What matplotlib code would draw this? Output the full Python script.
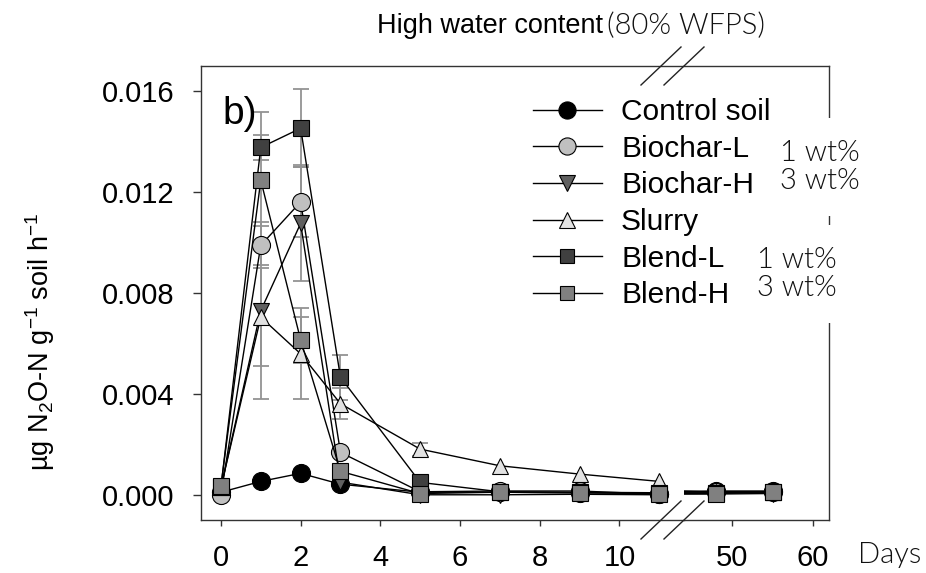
import numpy as np
import matplotlib
matplotlib.use("Agg")
import matplotlib.pyplot as plt
from matplotlib.lines import Line2D

plt.rcParams['font.family'] = ['Liberation Sans', 'DejaVu Sans']
plt.rcParams['mathtext.default'] = 'regular'

#### DATA #####
days = [0, 1, 2, 3, 5, 7, 9, 11, 48, 55]

series_names = ["Control soil", "Biochar-L", "Biochar-H", "Slurry", "Blend-L", "Blend-H"]

control    = [0.00010, 0.00053, 0.00085, 0.00042, 0.00010, 0.00010, 0.00008, 0.00005, 0.00015, 0.00015]
biochar_l  = [0.00000, 0.00989, 0.01161, 0.00168, 0.00012, 0.00015, 0.00015, 0.00002, 0.00012, 0.00012]
biochar_h  = [0.00030, 0.00730, 0.01076, 0.00050, 0.00000, 0.00000, 0.00002, 0.00000, 0.00003, 0.00005]
slurry     = [0.00030, 0.00704, 0.00559, 0.00361, 0.00181, 0.00115, 0.00082, 0.00053, 0.00010, 0.00012]
blend_l    = [0.00030, 0.01377, 0.01453, 0.00466, 0.00049, 0.00012, 0.00010, 0.00008, 0.00008, 0.00010]
blend_h    = [0.00035, 0.01247, 0.00614, 0.00093, 0.00005, 0.00010, 0.00008, 0.00005, 0.00005, 0.00010]

# standard deviations (only the visible ones)
control_err   = [0, 0, 0, 0, 0, 0, 0, 0, 0, 0]
biochar_l_err = [0, 0.00078, 0.00140, 0, 0, 0, 0, 0, 0, 0]
biochar_h_err = [0, 0.00350, 0.00230, 0, 0, 0, 0, 0, 0, 0]
slurry_err    = [0, 0.00195, 0.00180, 0.00062, 0.00026, 0, 0, 0, 0, 0]
blend_l_err   = [0.00005, 0.00050, 0.00155, 0.00090, 0, 0, 0, 0, 0, 0]
blend_h_err   = [0, 0.00270, 0.00090, 0, 0, 0, 0, 0, 0, 0]

values = [control, biochar_l, biochar_h, slurry, blend_l, blend_h]
errors = [control_err, biochar_l_err, biochar_h_err, slurry_err, blend_l_err, blend_h_err]
markers = ['o', 'o', 'v', '^', 's', 's']
colors = ['#000000', '#c0c0c0', '#606060', '#e2e2e2', '#404040', '#808080']
msizes = [13, 13, 12, 12, 11, 11]

W, H = 926, 573
def fx(px):
	return px / W
def fy(py):
	return 1 - py / H

fig = plt.figure(figsize=(W / 100, H / 100), dpi=100)

# broken x axis: early days on the left, late days on the right
left, right, brk, top, bottom = 201, 829, 684, 66, 520
ax1 = fig.add_axes([fx(left), fy(bottom), fx(brk - left), fy(top) - fy(bottom)])
ax2 = fig.add_axes([fx(brk), fy(bottom), fx(right - brk), fy(top) - fy(bottom)], sharey=ax1)

n_early = 8
for vals, errs, m, c, ms in zip(values, errors, markers, colors, msizes):
	d = np.array(days)
	v = np.array(vals)
	e = np.array(errs)
	mask = e > 0
	for ax in (ax1, ax2):
		ax.errorbar(d[mask], v[mask], yerr=e[mask], fmt='none', ecolor='#939393',
			elinewidth=1.3, capsize=6, capthick=1.3, zorder=1)
	ax1.plot(d[:n_early], v[:n_early], color='black', lw=1, marker=m, ms=ms,
		mfc=c, mec='black', mew=0.8, zorder=3)
	ax2.plot(d[n_early - 1:], v[n_early - 1:], color='black', lw=1, marker=m, ms=ms,
		mfc=c, mec='black', mew=0.8, zorder=3)

ax1.set_xlim(-0.5, 11.62)
ax2.set_xlim(44, 62)
ax1.set_ylim(-0.001, 0.017)

ax1.set_xticks([0, 2, 4, 6, 8, 10])
ax2.set_xticks([50, 60])
ax1.set_yticks([0.000, 0.004, 0.008, 0.012, 0.016])
ax1.set_yticklabels(['0.000', '0.004', '0.008', '0.012', '0.016'])

for ax in (ax1, ax2):
	for s in ax.spines.values():
		s.set_color('#333333')
		s.set_linewidth(1)
	ax.tick_params(axis='x', direction='out', length=4, width=1, color='#333333',
		labelsize=21, pad=13)
	ax.tick_params(axis='y', direction='out', length=6, width=1, color='#333333',
		labelsize=21, pad=13)
ax1.spines['right'].set_visible(False)
ax2.spines['left'].set_visible(False)
ax2.tick_params(axis='y', left=False, labelleft=False)

# break marks on top and bottom spines
for py in (top, bottom):
	for px in (661, 684):
		fig.add_artist(Line2D([fx(px - 20), fx(px + 20)], [fy(py + 19), fy(py - 19)],
			color='#222222', lw=1))

# legend
handles = [Line2D([], [], color='black', lw=1, marker=m, ms=ms * 0.95, mfc=c, mec='black', mew=0.8)
	for m, c, ms in zip(markers, colors, msizes)]
fig.legend(handles, series_names, loc='upper left', bbox_to_anchor=(fx(533), fy(98)),
	frameon=False, fontsize=21.5, handlelength=2.3,
	handletextpad=0.65, labelspacing=0.29, borderpad=0, borderaxespad=0)

thin = dict(family=['Lato', 'DejaVu Sans'], fontweight=300, color='#111111')
fig.text(fx(780), fy(167), "1 wt%\n3 wt%", fontsize=21, ha='left', va='center',
	linespacing=1.12, bbox=dict(facecolor='white', edgecolor='none', pad=16), **thin)
fig.text(fx(757), fy(274), "1 wt%\n3 wt%", fontsize=21, ha='left', va='center',
	linespacing=1.12, bbox=dict(facecolor='white', edgecolor='none', pad=16), **thin)

ax1.text(0.045, 0.935, "b)", transform=ax1.transAxes, fontsize=28, ha='left', va='top')

fig.text(fx(377), fy(26), "High water content", fontsize=19.5, ha='left', va='center')
fig.text(fx(607), fy(26), "(80% WFPS)", fontsize=21, ha='left', va='center', **thin)
fig.text(fx(858), fy(555), "Days", fontsize=21, ha='left', va='center', **thin)

fig.text(fx(40), fy(342), r"µg N$_2$O-N g$^{-1}$ soil h$^{-1}$", fontsize=19.5,
	rotation=90, ha='center', va='center')

fig.savefig("out.png", dpi=100)
